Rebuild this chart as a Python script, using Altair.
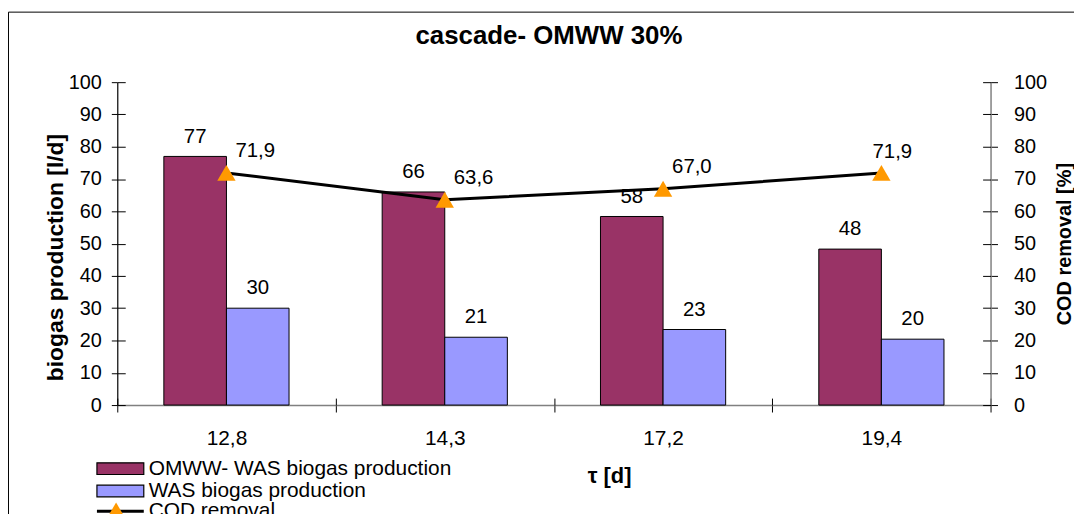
import altair as alt
import pandas as pd

# ---- data ----
tau = ["12,8", "14,3", "17,2", "19,4"]
omww_was_biogas = [77.0, 66.0, 58.4, 48.3]
was_biogas = [30.0, 21.0, 23.4, 20.4]
cod_removal = [71.9, 63.6, 67.0, 71.9]

S1 = "OMWW- WAS biogas production"
S2 = "WAS biogas production"
S3 = "COD removal"
series_order = [S1, S2]
y_ticks = list(range(0, 101, 10))

FONT = "Liberation Sans"
C_OMWW = "#993366"
C_WAS = "#9999FF"
C_COD = "#FF9900"

rows = []
for t, a, b in zip(tau, omww_was_biogas, was_biogas):
    rows.append({"tau": t, "series": S1, "value": a, "label": f"{a:.0f}"})
    rows.append({"tau": t, "series": S2, "value": b, "label": f"{b:.0f}"})
bars_df = pd.DataFrame(rows)

cod_df = pd.DataFrame({
    "tau": tau,
    "cod": cod_removal,
    "label": [f"{v:.1f}".replace(".", ",") for v in cod_removal],
    "s": [S3] * len(tau),
})
cod_main = cod_df[cod_df["tau"] != tau[-1]]
cod_last = cod_df[cod_df["tau"] == tau[-1]]

ticks_df = pd.DataFrame({"tau": tau * 3, "v": [0, 50, 100] * 4})

yscale = alt.Scale(domain=[0, 100], nice=False, zero=True)
xscale = alt.Scale(domain=tau, paddingInner=0, paddingOuter=0)

# ---- bars ----
x_main = alt.X(
    "tau:N", sort=tau, scale=xscale,
    axis=alt.Axis(
        title="τ [d]", tickBand="extent", labelAngle=0, labelFontSize=21,
        labelFont=FONT, labelColor="black", labelPadding=16, tickSize=7,
        tickColor="black", domainColor="#808080", domainWidth=1.5,
        titleFont=FONT, titleFontSize=22, titleFontWeight="bold",
        titleX=495, titleY=78, titleBaseline="alphabetic", titleColor="black",
    ),
)
y_left = alt.Y(
    "value:Q", scale=yscale,
    axis=alt.Axis(
        orient="left", values=y_ticks, title="biogas production [l/d]",
        labelFontSize=20, labelFont=FONT, labelColor="black", labelPadding=10,
        tickSize=6, tickColor="black", domainColor="black", domainWidth=1.2,
        grid=False, titleFont=FONT, titleFontSize=23, titleFontWeight="bold",
        titlePadding=1, titleY=176, titleColor="black",
    ),
)
base_bars = alt.Chart(bars_df).encode(
    x=x_main,
    xOffset=alt.XOffset("series:N", sort=series_order,
                        scale=alt.Scale(domain=series_order, paddingOuter=0.744, paddingInner=0)),
    y=y_left,
)
bars = base_bars.mark_bar(stroke="black", strokeWidth=1).encode(
    fill=alt.Fill(
        "series:N", sort=series_order,
        scale=alt.Scale(domain=series_order, range=[C_OMWW, C_WAS]),
        legend=alt.Legend(
            title=None, orient="none", legendX=-7.4, legendY=378.5,
            symbolType="M-4,-1H4V1H-4Z", symbolSize=139,
            symbolStrokeColor="black", symbolStrokeWidth=1.2,
            labelFont=FONT, labelFontSize=21, labelColor="black",
            labelOffset=18, rowPadding=0.5, padding=0, labelLimit=600,
        ),
    )
)
bar_labels = base_bars.mark_text(
    font=FONT, fontSize=20.5, color="black", baseline="alphabetic", dy=-14
).encode(text="label:N")
bars_layer = alt.layer(bars, bar_labels)

# ---- COD line ----
x_cod = alt.X("tau:N", sort=tau, scale=xscale, axis=None)
y_right = alt.Y(
    "cod:Q", scale=yscale,
    axis=alt.Axis(
        orient="right", values=y_ticks, title="COD removal [%]",
        labelFontSize=20, labelFont=FONT, labelColor="black", labelPadding=16,
        tickSize=7, tickColor="black", domainColor="#808080", domainWidth=1.5,
        grid=False, titleFont=FONT, titleFontSize=20, titleFontWeight="bold",
        titleAngle=270, titleBaseline="top", titlePadding=8, titleColor="black",
    ),
)
cod_base = alt.Chart(cod_df).encode(x=x_cod, y=y_right)
line = cod_base.mark_line(strokeWidth=3).encode(
    stroke=alt.Stroke(
        "s:N", scale=alt.Scale(domain=[S3], range=["black"]),
        legend=alt.Legend(
            title=None, orient="none", legendX=-7.4, legendY=421.5,
            symbolType="M-4,0H4", symbolSize=139, symbolStrokeWidth=3,
            labelFont=FONT, labelFontSize=21, labelColor="black",
            labelOffset=18, padding=0, labelLimit=600,
        ),
    )
)
points = cod_base.mark_point(shape="triangle-up", filled=True, size=340, opacity=1).transform_calculate(
    s2="datum.s + ' '"
).encode(
    color=alt.Color(
        "s2:N", scale=alt.Scale(range=[C_COD]),
        legend=alt.Legend(
            title=None, orient="none", legendX=-10.7, legendY=421.5,
            symbolType="triangle-up", symbolSize=340, symbolOpacity=1,
            symbolStrokeWidth=0, labelExpr="''", padding=0,
        ),
    )
)
cod_lab_a = alt.Chart(cod_main).mark_text(
    font=FONT, fontSize=20.5, color="black", baseline="alphabetic", dx=29, dy=-16
).encode(x=x_cod, y=y_right, text="label:N")
cod_lab_b = alt.Chart(cod_last).mark_text(
    font=FONT, fontSize=20.5, color="black", baseline="alphabetic", dx=11, dy=-15
).encode(x=x_cod, y=y_right, text="label:N")
cod_layer = alt.layer(line, points, cod_lab_a, cod_lab_b)

# ---- inner halves of the crossing ticks ----
inner_left = alt.Chart(ticks_df).mark_point(opacity=0).encode(
    x=alt.X("tau:N", sort=tau, scale=xscale,
            axis=alt.Axis(orient="bottom", offset=-7, tickSize=7, tickBand="extent",
                          labels=False, domain=False, title=None, tickColor="black")),
    y=alt.Y("v:Q", scale=yscale,
            axis=alt.Axis(orient="left", offset=-8, tickSize=8, values=y_ticks,
                          labels=False, domain=False, title=None, grid=False,
                          tickColor="black")),
)
inner_right = alt.Chart(ticks_df).mark_point(opacity=0).encode(
    x=alt.X("tau:N", sort=tau, scale=xscale, axis=None),
    y=alt.Y("v:Q", scale=yscale,
            axis=alt.Axis(orient="right", offset=-8, tickSize=8, values=y_ticks,
                          labels=False, domain=False, title=None, grid=False,
                          tickColor="black")),
)

# ---- outer frame of the chart ----
frame = alt.Chart(pd.DataFrame({"f": [0]})).mark_rect(
    fill="white", fillOpacity=0, stroke="black", strokeWidth=1
).encode(
    x=alt.value(-109.5), y=alt.value(-70.5), x2=alt.value(1100), y2=alt.value(600)
)

chart = alt.layer(
    frame, bars_layer, cod_layer, inner_left, inner_right
).resolve_scale(
    y="independent", x="independent"
).properties(
    width=879, height=325,
    title=alt.TitleParams(
        "cascade- OMWW 30%", font=FONT, fontSize=26, fontWeight="bold",
        color="black", anchor="middle", offset=-38, dx=-5,
    ),
    autosize=alt.AutoSizeParams(type="none"),
    padding={"left": 110, "top": 73, "right": 84, "bottom": 108},
    background="white",
).configure_view(stroke=None)

chart.save("out.html", embed_options={"renderer": "svg", "actions": False})
